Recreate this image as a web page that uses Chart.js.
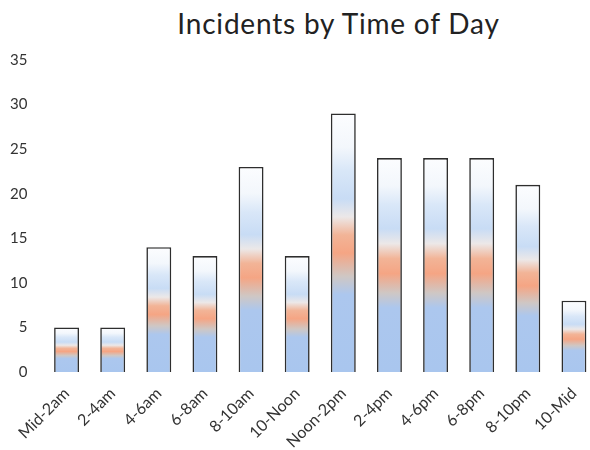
<!DOCTYPE html>
<html>
<head>
<meta charset="utf-8">
<script src="https://cdn.jsdelivr.net/npm/chart.js@4.4.1/dist/chart.umd.min.js"></script>
<style>
  body { margin: 0; width: 590px; height: 450px; overflow: hidden; background: #fff; position: relative; }
  #titulo { position: absolute; left: 0; top: 6px; width: 677px; text-align: center;
            font-family: Lato, sans-serif; font-size: 28px; letter-spacing: 0.8px; color: #222; line-height: normal; }
  #contenedor { position: absolute; left: 0; top: 0; width: 600px; height: 450px; }
</style>
</head>
<body>
<div id="titulo">Incidents by Time of Day</div>
<div id="contenedor"><canvas id="myChart"></canvas></div>
<script>
// Datos
const Categorias = ["Mid-2am", "2-4am", "4-6am", "6-8am", "8-10am", "10-Noon",
                    "Noon-2pm", "2-4pm", "4-6pm", "6-8pm", "8-10pm", "10-Mid"];
const Incidentes = [5, 5, 14, 13, 23, 13, 29, 24, 24, 24, 21, 8];
const yMax = 35;
const yPaso = 5;

// Degradado de cada barra, de abajo (0) hacia arriba (1)
const colores = [
    [0.00, "#a9c6ee"],
    [0.30, "#acc7ee"],
    [0.37, "#cfc7c4"],
    [0.46, "#f5a584"],
    [0.53, "#f2b497"],
    [0.60, "#ece8e8"],
    [0.67, "#c8dcf5"],
    [0.78, "#d9e7f8"],
    [0.87, "#f3f7fc"],
    [1.00, "#fcfdff"]
];

function rellenoBarra(context){
    const chart = context.chart;
    const y = chart.scales.y;
    if (!y || !chart.chartArea) return "#a9c6ee";
    const valor = context.raw;
    const base = y.getPixelForValue(0);
    const tope = y.getPixelForValue(valor);
    const grad = chart.ctx.createLinearGradient(0, base, 0, tope);
    colores.forEach(c => grad.addColorStop(c[0], c[1]));
    return grad;
}

window.onload = function(){
    const ctx = document.getElementById('myChart').getContext('2d');
    const myChart = new Chart(ctx, {
        type: 'bar',
        data: {
            labels: Categorias,
            datasets: [{
                label: 'Incidents',
                data: Incidentes,
                backgroundColor: rellenoBarra,
                borderColor: '#2e2e2e',
                borderWidth: 1.6,
                barPercentage: 0.9,
                categoryPercentage: 0.6
            }]
        },
        options: {
            responsive: true,
            maintainAspectRatio: false,
            animation: false,
            layout: { padding: { top: 60, right: 3, bottom: 0, left: 0 } },
            plugins: {
                legend: { display: false },
                tooltip: { enabled: false }
            },
            scales: {
                x: {
                    grid: { display: false, drawTicks: false },
                    border: { display: false },
                    ticks: {
                        minRotation: 45, maxRotation: 45,
                        padding: 12,
                        color: '#333',
                        font: { family: 'Lato', size: 16 }
                    },
                    afterFit: function(scale){ scale.height = 78; }
                },
                y: {
                    min: 0, max: yMax,
                    grid: { display: false, drawTicks: false },
                    border: { display: false },
                    ticks: {
                        stepSize: yPaso,
                        padding: 16,
                        color: '#333',
                        font: { family: 'Lato', size: 15 }
                    },
                    afterFit: function(scale){ scale.width = 43.5; }
                }
            }
        }
    });
};
</script>
</body>
</html>
